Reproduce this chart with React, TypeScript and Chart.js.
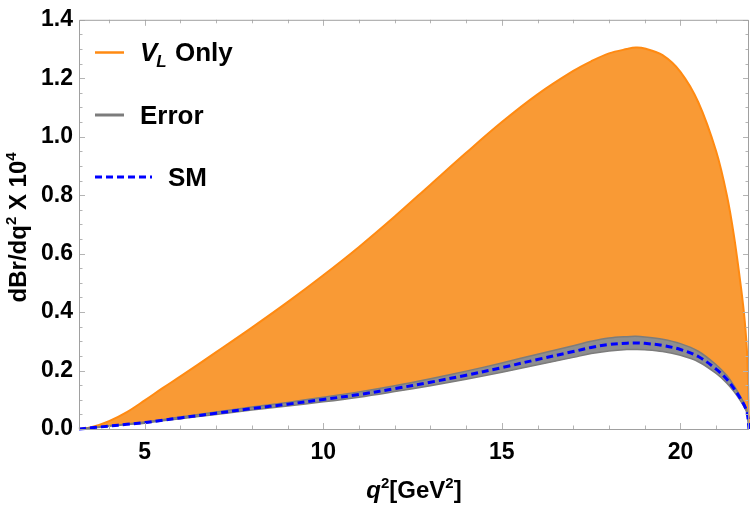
import React, { useEffect, useRef } from "react";
import { Chart, registerables } from "chart.js";

Chart.register(...registerables);

// q^2 grid (GeV^2)
const Q2 = [3.16, 3.5, 4, 4.5, 5, 5.5, 6, 7, 8, 9, 10, 11, 12, 13, 14, 15, 16, 17, 17.5, 18, 18.5, 18.75, 19, 19.5, 20, 20.5, 21, 21.3, 21.5, 21.7, 21.8, 21.87, 21.92];
// Upper edge of the V_L band
const VL_UPPER = [0, 0.006, 0.027, 0.058, 0.098, 0.14, 0.18, 0.263, 0.347, 0.434, 0.526, 0.623, 0.727, 0.836, 0.945, 1.05, 1.145, 1.225, 1.258, 1.285, 1.3, 1.305, 1.302, 1.279, 1.222, 1.118, 0.95, 0.8, 0.66, 0.48, 0.37, 0.25, 0];
// SM error band
const ERR_UPPER = [0, 0.0045, 0.011, 0.017, 0.024, 0.032, 0.041, 0.058, 0.075, 0.091, 0.109, 0.127, 0.148, 0.172, 0.198, 0.226, 0.256, 0.285, 0.3, 0.311, 0.316, 0.317, 0.315, 0.307, 0.292, 0.266, 0.22, 0.183, 0.148, 0.107, 0.084, 0.059, 0];
const ERR_LOWER = [0, 0.0035, 0.009, 0.015, 0.02, 0.028, 0.035, 0.05, 0.065, 0.079, 0.093, 0.109, 0.128, 0.148, 0.17, 0.194, 0.22, 0.245, 0.258, 0.267, 0.272, 0.272, 0.271, 0.265, 0.252, 0.23, 0.19, 0.157, 0.128, 0.093, 0.072, 0.051, 0];
// SM central curve
const SM = [0, 0.004, 0.01, 0.016, 0.022, 0.03, 0.038, 0.054, 0.07, 0.085, 0.101, 0.118, 0.138, 0.16, 0.184, 0.21, 0.238, 0.265, 0.279, 0.289, 0.2935, 0.2945, 0.293, 0.286, 0.272, 0.248, 0.205, 0.17, 0.138, 0.1, 0.078, 0.055, 0];

const X_TICKS = [5, 10, 15, 20];
const Y_TICKS = [0, 0.2, 0.4, 0.6, 0.8, 1.0, 1.2, 1.4];
const X_MIN = 3.16;
const X_MAX = 21.92;
const Y_MIN = 0;
const Y_MAX = 1.4;

const LEGEND = ["V_L Only", "Error", "SM"];

const FONT = '"Liberation Sans", Arial, sans-serif';
const ORANGE_LINE = "#ff8a12";
const ORANGE_FILL = "#f99a35";
const GRAY_LINE = "#7c7c7c";
const GRAY_FILL = "#8e8e8e";
const BLUE = "#0000ff";

const pts = (ys: number[]) => Q2.map((x, i) => ({ x, y: ys[i] }));

const framePlugin = {
  id: "frameTicks",
  afterDatasetsDraw(chart: any) {
    const { ctx, chartArea: a, scales } = chart;
    const x = scales.x;
    const y = scales.y;
    ctx.save();
    ctx.strokeStyle = "#b4b4b4";
    ctx.lineWidth = 1;
    ctx.beginPath();
    for (let v = Math.ceil(X_MIN); v <= X_MAX; v += 1) {
      const px = Math.round(x.getPixelForValue(v)) + 0.5;
      const len = v % 5 === 0 ? 6 : 3.5;
      ctx.moveTo(px, a.bottom);
      ctx.lineTo(px, a.bottom - len);
      ctx.moveTo(px, a.top);
      ctx.lineTo(px, a.top + len);
    }
    for (let k = 0; k <= 28; k++) {
      const v = k * 0.05;
      const py = Math.round(y.getPixelForValue(v)) + 0.5;
      const len = k % 4 === 0 ? 6 : 3.5;
      ctx.moveTo(a.left, py);
      ctx.lineTo(a.left + len, py);
      ctx.moveTo(a.right, py);
      ctx.lineTo(a.right - len, py);
    }
    ctx.stroke();
    ctx.strokeStyle = "#a0a0a0";
    ctx.beginPath();
    ctx.moveTo(a.left + 0.5, a.top + 0.5);
    ctx.lineTo(a.right - 0.5, a.top + 0.5);
    ctx.lineTo(a.right - 0.5, a.bottom + 0.5);
    ctx.lineTo(a.left + 0.5, a.bottom + 0.5);
    ctx.closePath();
    ctx.stroke();
    ctx.restore();
  },
  afterDraw(chart: any) {
    const { ctx, chartArea: a } = chart;
    ctx.save();
    ctx.fillStyle = "#000";
    ctx.textBaseline = "alphabetic";
    ctx.textAlign = "left";

    // Legend
    const big = `bold 26px ${FONT}`;
    const bigIt = `italic bold 26px ${FONT}`;
    const subIt = `italic bold 17px ${FONT}`;
    // row 1
    ctx.strokeStyle = ORANGE_LINE;
    ctx.lineWidth = 2.5;
    ctx.beginPath();
    ctx.moveTo(95, 52.5);
    ctx.lineTo(124, 52.5);
    ctx.stroke();
    let cx = 140;
    ctx.font = bigIt;
    ctx.fillText(LEGEND[0].charAt(0), cx, 61);
    cx += ctx.measureText(LEGEND[0].charAt(0)).width - 1;
    ctx.font = subIt;
    ctx.fillText(LEGEND[0].charAt(2), cx, 67);
    cx += ctx.measureText(LEGEND[0].charAt(2)).width + 1;
    ctx.font = big;
    ctx.fillText(LEGEND[0].slice(3), cx, 61);
    // row 2
    ctx.strokeStyle = GRAY_LINE;
    ctx.lineWidth = 3;
    ctx.beginPath();
    ctx.moveTo(95, 115);
    ctx.lineTo(124, 115);
    ctx.stroke();
    ctx.font = big;
    ctx.fillText(LEGEND[1], 140, 124);
    // row 3
    ctx.strokeStyle = BLUE;
    ctx.lineWidth = 3;
    ctx.setLineDash([7, 4]);
    ctx.beginPath();
    ctx.moveTo(95, 177);
    ctx.lineTo(152, 177);
    ctx.stroke();
    ctx.setLineDash([]);
    ctx.fillText(LEGEND[2], 168, 186);

    // X axis title: q^2[GeV^2]
    const t = `bold 24px ${FONT}`;
    const tIt = `italic bold 24px ${FONT}`;
    const sup = `bold 15px ${FONT}`;
    const parts: [string, string, number][] = [
      ["q", tIt, 0],
      ["2", sup, -10],
      ["[GeV", t, 0],
      ["2", sup, -10],
      ["]", t, 0],
    ];
    let w = 0;
    for (const [s, f] of parts) {
      ctx.font = f;
      w += ctx.measureText(s).width;
    }
    let px = (a.left + a.right) / 2 - w / 2;
    for (const [s, f, dy] of parts) {
      ctx.font = f;
      ctx.fillText(s, px, 498 + dy);
      px += ctx.measureText(s).width;
    }

    // Y axis title: dBr/dq^2 X 10^4
    const yparts: [string, string, number][] = [
      ["dBr/dq", t, 0],
      ["2", sup, -10],
      [" X 10", t, 0],
      ["4", sup, -10],
    ];
    w = 0;
    for (const [s, f] of yparts) {
      ctx.font = f;
      w += ctx.measureText(s).width;
    }
    ctx.translate(26, (a.top + a.bottom) / 2 + 3);
    ctx.rotate(-Math.PI / 2);
    px = -w / 2;
    for (const [s, f, dy] of yparts) {
      ctx.font = f;
      ctx.fillText(s, px, dy);
      px += ctx.measureText(s).width;
    }
    ctx.restore();
  },
};

export default function App() {
  const ref = useRef<HTMLCanvasElement | null>(null);

  useEffect(() => {
    document.body.style.margin = "0";
    const canvas = ref.current;
    if (!canvas) return;
    const common = { pointRadius: 0, tension: 0.35, clip: 3 };
    const chart = new Chart(canvas, {
      type: "line",
      data: {
        datasets: [
          {
            ...common,
            label: "V_L Only",
            data: pts(VL_UPPER),
            borderColor: ORANGE_LINE,
            backgroundColor: ORANGE_FILL,
            borderWidth: 2,
            fill: { target: 2 },
            order: 4,
          } as any,
          {
            ...common,
            label: "Error",
            data: pts(ERR_UPPER),
            borderColor: GRAY_LINE,
            backgroundColor: GRAY_FILL,
            borderWidth: 1.5,
            fill: { target: 2 },
            order: 3,
          },
          {
            ...common,
            label: "Error lower",
            data: pts(ERR_LOWER),
            borderColor: GRAY_LINE,
            backgroundColor: GRAY_FILL,
            borderWidth: 1.5,
            fill: false,
            order: 2,
          },
          {
            ...common,
            label: "SM",
            data: pts(SM),
            borderColor: BLUE,
            borderWidth: 3,
            borderDash: [7, 4],
            fill: false,
            order: 1,
          },
        ],
      },
      options: {
        animation: false,
        responsive: false,
        devicePixelRatio: 1,
        layout: { padding: { top: 15, right: 1, left: 0, bottom: 0 } },
        plugins: {
          legend: { display: false },
          tooltip: { enabled: false },
          filler: { drawTime: "beforeDatasetDraw" },
        } as any,
        scales: {
          x: {
            type: "linear",
            min: X_MIN,
            max: X_MAX,
            grid: { display: false, drawTicks: false, tickLength: 0 },
            border: { display: false },
            afterBuildTicks: (s: any) => {
              s.ticks = X_TICKS.map((v) => ({ value: v }));
            },
            afterFit: (s: any) => {
              s.height = 80;
            },
            ticks: {
              padding: 10,
              color: "#000",
              maxRotation: 0,
              autoSkip: false,
              font: { family: FONT, weight: "bold", size: 23 },
              callback: (v: any) => String(v),
            },
          },
          y: {
            type: "linear",
            min: Y_MIN,
            max: Y_MAX,
            grid: { display: false, drawTicks: false, tickLength: 0 },
            border: { display: false },
            afterBuildTicks: (s: any) => {
              s.ticks = Y_TICKS.map((v) => ({ value: v }));
            },
            afterFit: (s: any) => {
              s.width = 79;
            },
            ticks: {
              padding: 6,
              color: "#000",
              autoSkip: false,
              font: { family: FONT, weight: "bold", size: 23 },
              callback: (v: any) => Number(v).toFixed(1),
            },
          },
        },
      } as any,
      plugins: [framePlugin],
    });
    return () => chart.destroy();
  }, []);

  return (
    <div style={{ width: 750, height: 509, background: "#fff" }}>
      <canvas ref={ref} width={750} height={509} style={{ display: "block", width: 750, height: 509 }} />
    </div>
  );
}
